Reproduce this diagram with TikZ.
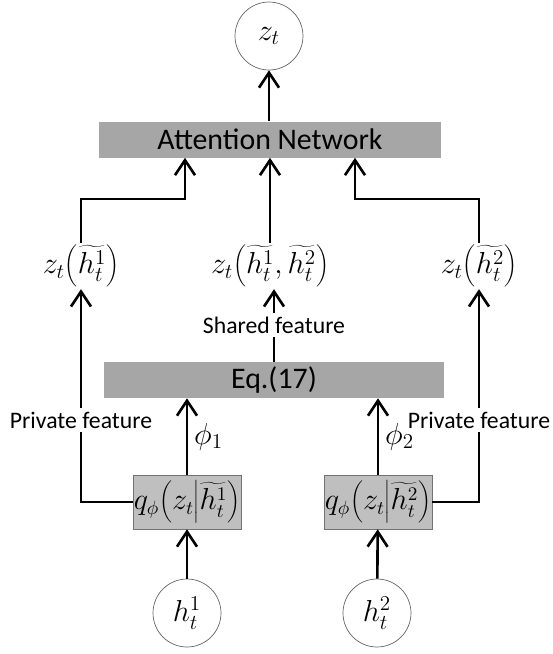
\documentclass[tikz,border=0pt]{standalone}
\usepackage{fontspec}
\setmainfont{Carlito}
\usetikzlibrary{positioning, arrows.meta}
\definecolor{boxgray}{RGB}{166, 166, 166}
\definecolor{qgray}{RGB}{191, 191, 191}
\tikzset{
  layer/.style={fill=boxgray, minimum height=0.72cm, inner sep=0pt,
                font=\fontsize{17}{20}\selectfont},
  qbox/.style={draw=black!55, fill=qgray, minimum width=2.16cm, minimum height=1.08cm,
               inner sep=0pt, font=\fontsize{16}{19}\selectfont},
  var/.style={circle, draw=black!60, minimum size=1.36cm, inner sep=0pt,
              font=\fontsize{17}{20}\selectfont},
  feat/.style={font=\fontsize{17}{20}\selectfont, inner sep=1pt},
  tag/.style={font=\fontsize{13.5}{16}\selectfont, fill=white, inner sep=2pt},
  flow/.style={-{Straight Barb[length=3mm, width=4mm]}, line width=1.5pt},
  link/.style={line width=1.5pt},
}

\begin{document}
\begin{tikzpicture}[x=0.02cm, y=-0.02cm]
  \useasboundingbox (0,0) rectangle (553,654);

  % inputs and their posteriors
  \node[var] (h1) at (187,613) {$h_t^1$};
  \node[var] (h2) at (377,613) {$h_t^2$};
  \node[qbox] (q1) at (187,502) {$q_\phi\!\left(z_t\middle|\widetilde{h_t^1}\right)$};
  \node[qbox] (q2) at (378,502) {$q_\phi\!\left(z_t\middle|\widetilde{h_t^2}\right)$};

  % fusion, features and attention
  \node[layer, minimum width=6.8cm] (eq) at (274,380) {Eq.(17)};
  \node[tag] (shared) at (274,325) {Shared feature};
  \node[feat] (f1) at (81,266) {$z_t\!\left(\widetilde{h_t^1}\right)$};
  \node[feat] (f12) at (270,266) {$z_t\!\left(\widetilde{h_t^1},\widetilde{h_t^2}\right)$};
  \node[feat] (f2) at (479,266) {$z_t\!\left(\widetilde{h_t^2}\right)$};
  \node[layer, minimum width=6.84cm] (att) at (270,139.5) {Attention Network};
  \node[var] (z) at (269,36) {$z_t$};

  \coordinate (a1) at (185,199);
  \coordinate (a2) at (355,199);

  \draw[flow] (h1) -- (q1);
  \draw[flow] (h2) -- (q2);
  \draw[flow] (q1.north) -- (q1.north |- eq.south) node[pos=0.5, right, font=\fontsize{17}{20}\selectfont] {$\phi_1$};
  \draw[flow] (q2.north) -- (q2.north |- eq.south) node[pos=0.5, right, font=\fontsize{17}{20}\selectfont] {$\phi_2$};

  % private paths skip the fusion block
  \draw[flow] (q1.west) -| (f1.south);
  \draw[flow] (q2.east) -| (f2.south);
  \node[tag] (p1) at (81,420) {Private feature};
  \node[tag] (p2) at (479,420) {Private feature};

  \draw[link] (eq.north -| shared) -- (shared.south);
  \draw[flow] (shared.north) -- (shared.north |- f12.south);

  \draw[flow] (f1.north) |- (a1) -- (a1 |- att.south);
  \draw[flow] (f12.north) -- (f12.north |- att.south);
  \draw[flow] (f2.north) |- (a2) -- (a2 |- att.south);
  \draw[flow] (att.north -| z) -- (z.south);
\end{tikzpicture}
\end{document}
